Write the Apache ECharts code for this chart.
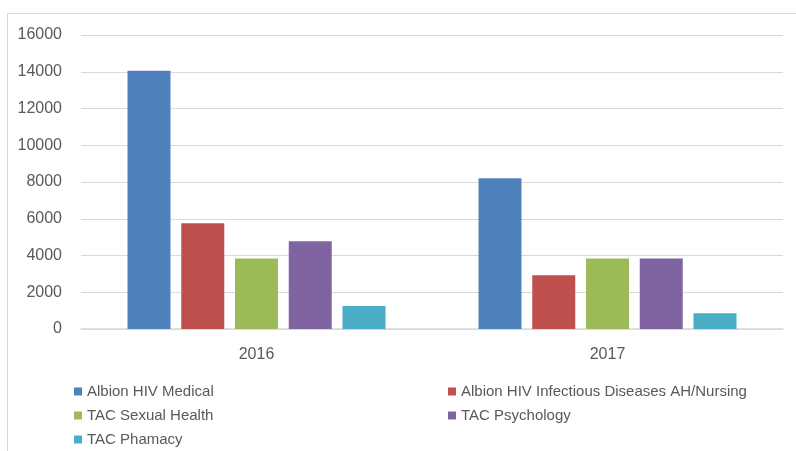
<!DOCTYPE html>
<html>
<head>
<meta charset="utf-8">
<script src="https://cdn.jsdelivr.net/npm/echarts@6/dist/echarts.min.js"></script>
<style>
  html, body { margin: 0; padding: 0; background: #fff; }
  #main { width: 796px; height: 451px; }
</style>
</head>
<body>
<div id="main"></div>
<script>
const years = ['2016', '2017'];
const seriesNames = [
    'Albion HIV Medical',
    'Albion HIV Infectious Diseases AH/Nursing',
    'TAC Sexual Health',
    'TAC Psychology',
    'TAC Phamacy'
];
const medical = [14050, 8200];
const nursing = [5750, 2920];
const sexualHealth = [3830, 3830];
const psychology = [4770, 3830];
const pharmacy = [1250, 860];
const yTicks = [0, 2000, 4000, 6000, 8000, 10000, 12000, 14000, 16000];

const colors = ['#4f81bd', '#c0504d', '#9bbb59', '#8064a2', '#4bacc6'];
const allData = [medical, nursing, sexualHealth, psychology, pharmacy];
const textColor = '#595959';
const font = 'Liberation Sans';

const chart = echarts.init(document.getElementById('main'));

let series = [];
for (let i = 0; i < seriesNames.length; i++) {
    series.push({
        name: seriesNames[i],
        type: 'bar',
        data: allData[i],
        barWidth: 43,
        barGap: '25%',
        itemStyle: {
            color: colors[i]
        }
    });
}

let legendStyle = {
    orient: 'vertical',
    itemWidth: 8,
    itemHeight: 8,
    itemGap: 9,
    icon: 'rect',
    padding: 0,
    textStyle: {
        color: textColor,
        fontFamily: font,
        fontSize: 15
    }
};

const option = {
    animation: false,
    color: colors,
    grid: {
        left: 81,
        right: 13,
        top: 35,
        bottom: 122
    },
    graphic: [{
        type: 'polyline',
        shape: {
            points: [[7.5, 460], [7.5, 13.5], [800, 13.5]]
        },
        style: {
            stroke: '#d9d9d9',
            lineWidth: 1,
            fill: null
        }
    }],
    legend: [
        Object.assign({}, legendStyle, {
            left: 74,
            top: 384,
            data: [seriesNames[0], seriesNames[2], seriesNames[4]]
        }),
        Object.assign({}, legendStyle, {
            left: 448,
            top: 384,
            data: [seriesNames[1], seriesNames[3]]
        })
    ],
    xAxis: {
        type: 'category',
        data: years,
        axisTick: { show: false },
        axisLine: {
            lineStyle: { color: '#d9d9d9', width: 1.5 }
        },
        axisLabel: {
            color: textColor,
            fontFamily: font,
            fontSize: 16,
            margin: 18
        }
    },
    yAxis: {
        type: 'value',
        min: yTicks[0],
        max: yTicks[yTicks.length - 1],
        interval: 2000,
        axisLine: { show: false },
        axisTick: { show: false },
        splitLine: {
            lineStyle: { color: '#d9d9d9', width: 1.2 }
        },
        axisLabel: {
            color: textColor,
            fontFamily: font,
            fontSize: 16,
            margin: 19,
            formatter: function (v) {
                return String(v);
            }
        }
    },
    series: series
};

chart.setOption(option);
</script>
</body>
</html>
